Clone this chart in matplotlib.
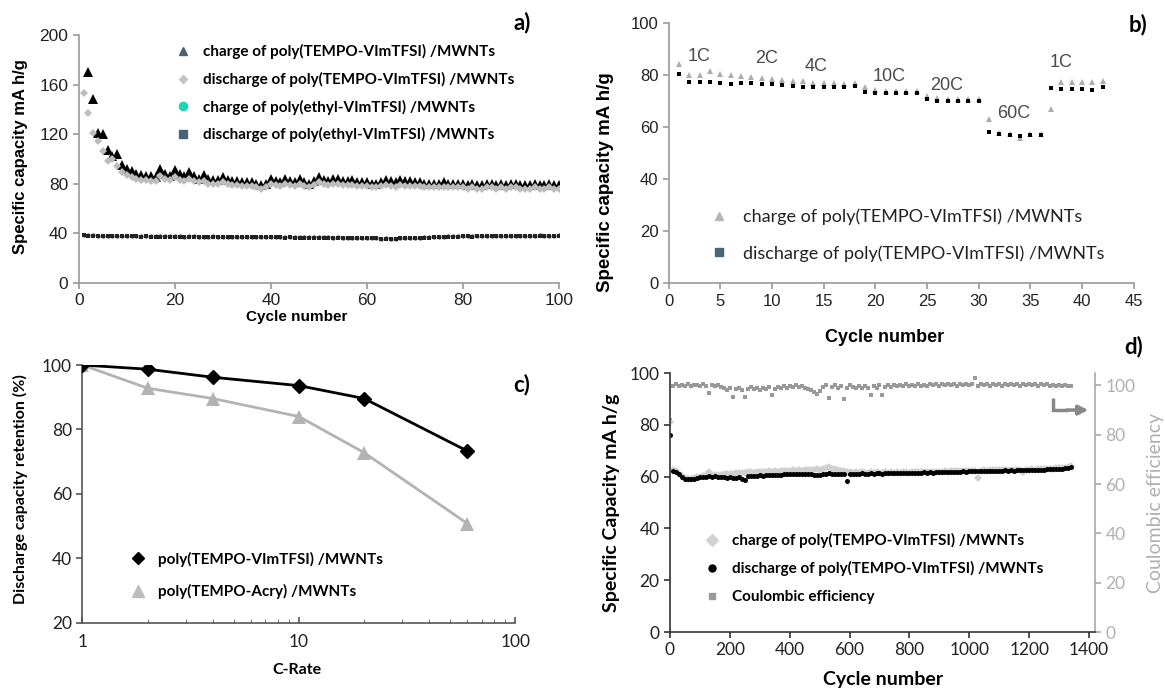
import numpy as np
import matplotlib
matplotlib.use("Agg")
import matplotlib.pyplot as plt
from matplotlib.lines import Line2D

# ---- panel a: cycling at 1C, 100 cycles ----
cyc_a = np.arange(1, 101)
chg_tempo = [np.nan, 170, 148, 121, 120, 107, 102, 104, 95, 92,
             90, 88, 87, 86, 86, 85, 92, 88, 86, 91,
             88, 86, 89, 86, 84, 87, 84, 83, 83, 85,
             83, 82, 82, 81, 81, 81, 80, 79, 80, 84,
             82, 81, 84, 82, 81, 84, 81, 80, 82, 85,
             83, 82, 84, 84, 82, 82, 83, 81, 81, 81,
             80, 80, 81, 83, 82, 81, 83, 82, 82, 81,
             81, 80, 80, 80, 80, 81, 80, 80, 80, 80,
             79, 80, 79, 79, 80, 80, 79, 80, 79, 80,
             80, 79, 79, 79, 80, 79, 79, 80, 79, 79]
dis_tempo = [153, 137, 121, 114, 106, 98, 100, 94, 89, 87,
             85, 84, 83, 83, 82, 82, 86, 84, 83, 85,
             83, 82, 84, 82, 81, 82, 80, 80, 80, 81,
             80, 79, 79, 78, 78, 78, 77, 76, 77, 80,
             79, 78, 80, 79, 78, 80, 78, 77, 79, 81,
             80, 79, 80, 80, 79, 79, 79, 78, 78, 78,
             77, 77, 78, 79, 78, 77, 79, 78, 78, 78,
             78, 77, 77, 77, 77, 77, 77, 77, 77, 77,
             76, 77, 76, 76, 77, 77, 76, 77, 76, 77,
             77, 76, 76, 76, 77, 76, 76, 77, 76, 76]
chg_ethyl = [38.5, 38.3, 38.2, 38.0, 38.0, 37.8, 37.9, 37.8, 37.7, 37.8,
             37.6, 37.7, 37.5, 37.6, 37.4, 37.5, 37.4, 37.4, 37.3, 37.4,
             37.3, 37.2, 37.5, 37.3, 37.2, 37.1, 37.2, 37.3, 37.1, 37.2,
             37.0, 37.1, 37.0, 36.9, 37.0, 36.9, 36.9, 37.0, 36.8, 36.9,
             36.8, 36.8, 36.7, 36.8, 36.7, 36.6, 36.7, 36.6, 36.5, 36.6,
             36.5, 36.5, 36.4, 36.5, 36.4, 36.3, 36.4, 36.3, 36.2, 36.3,
             36.2, 36.0, 35.5, 35.8, 35.4, 35.6, 36.0, 36.1, 36.2, 36.3,
             36.4, 36.5, 36.7, 36.8, 37.0, 37.2, 37.4, 37.5, 37.5, 37.6,
             37.6, 37.5, 37.6, 37.7, 37.6, 37.7, 37.7, 37.8, 37.7, 37.8,
             37.8, 37.9, 37.8, 37.9, 38.0, 38.2, 38.0, 37.9, 38.0, 38.1]
dis_ethyl = [38.1, 38.0, 37.9, 37.7, 37.7, 37.5, 37.6, 37.5, 37.4, 37.5,
             37.3, 37.4, 37.2, 37.3, 37.1, 37.2, 37.1, 37.1, 37.0, 37.1,
             37.0, 36.9, 37.2, 37.0, 36.9, 36.8, 36.9, 37.0, 36.8, 36.9,
             36.7, 36.8, 36.7, 36.6, 36.7, 36.6, 36.6, 36.7, 36.5, 36.6,
             36.5, 36.5, 36.4, 36.5, 36.4, 36.3, 36.4, 36.3, 36.2, 36.3,
             36.2, 36.2, 36.1, 36.2, 36.1, 36.0, 36.1, 36.0, 35.9, 36.0,
             35.9, 35.7, 35.2, 35.5, 35.1, 35.3, 35.7, 35.8, 35.9, 36.0,
             36.1, 36.2, 36.4, 36.5, 36.7, 36.9, 37.1, 37.2, 37.2, 37.3,
             37.3, 37.2, 37.3, 37.4, 37.3, 37.4, 37.4, 37.5, 37.4, 37.5,
             37.5, 37.6, 37.5, 37.6, 37.7, 37.9, 37.7, 37.6, 37.7, 37.8]

# ---- panel b: rate test ----
cyc_b = np.arange(1, 43)
chg_b = [84.3, 80.1, 80.1, 81.4, 80.5, 80.1, 79.6, 79.0, 78.6, 78.3,
         78.0, 77.7, 77.6, 77.0, 76.8, 76.7, 76.6, 77.0, 75.2, 74.0,
         73.9, 73.8, 73.8, 73.7, 72.0, 71.0, 70.8, 70.8, 70.7, 70.6,
         62.9, 57.6, 57.4, 55.7, 57.3, 57.2, 66.8, 77.3, 77.3, 77.3,
         77.1, 77.7]
dis_b = [80.5, 77.1, 77.1, 77.3, 76.7, 76.4, 76.8, 76.7, 76.4, 76.3,
         76.1, 75.8, 75.5, 75.4, 75.4, 75.4, 75.4, 75.8, 73.5, 73.1,
         73.1, 73.1, 73.1, 73.0, 70.6, 70.1, 70.1, 70.1, 69.9, 69.9,
         58.2, 57.2, 56.9, 56.6, 56.9, 56.8, 74.8, 74.6, 74.6, 74.4,
         74.3, 75.5]
rate_labels = ["1C", "2C", "4C", "10C", "20C", "60C", "1C"]
rate_lab_x = [2.9, 9.5, 14.3, 21.3, 26.9, 33.4, 38.0]
rate_lab_y = [87.2, 86.3, 83.1, 79.3, 76.1, 65.2, 84.6]

# ---- panel c: retention vs C-rate ----
c_rate = [1, 2, 4, 10, 20, 60]
ret_vim = [100, 98.7, 96.2, 93.6, 89.6, 73.3]
ret_acry = [100, 92.8, 89.6, 84.0, 72.8, 50.8]

# ---- panel d: long cycling (every 10th cycle) ----
cyc_d = [1] + list(range(10, 1341, 10))
dis_d = [76.0, 62.0, 61.8, 61.0, 60.0, 59.2, 58.9, 58.9, 59.2, 59.5,
         59.7, 59.9, 60.0, 60.1, 60.0, 60.1, 60.0, 59.9, 59.7, 59.6,
         59.8, 59.5, 59.4, 59.9, 59.1, 58.7, 60.1, 60.2, 60.3, 60.4,
         60.5, 60.4, 60.6, 60.7, 60.5, 60.8, 60.7, 60.8, 60.9, 61.0,
         61.0, 60.9, 61.1, 61.0, 61.2, 61.0, 61.1, 60.9, 60.7, 60.5,
         60.8, 61.0, 61.2, 61.3, 61.1, 61.2, 61.0, 61.1, 61.2, 58.4,
         61.1, 61.0, 61.2, 61.1, 61.3, 61.2, 61.1, 61.3, 61.2, 61.4,
         61.3, 61.2, 61.4, 61.3, 61.4, 61.3, 61.4, 61.3, 61.5, 61.4,
         61.3, 61.5, 61.4, 61.5, 61.4, 61.6, 61.5, 61.6, 61.5, 61.7,
         61.6, 61.7, 61.8, 61.7, 61.8, 61.9, 61.8, 61.9, 62.0, 61.9,
         62.0, 62.1, 62.0, 62.2, 62.1, 62.2, 62.1, 62.3, 62.2, 62.3,
         62.2, 62.3, 62.4, 62.3, 62.4, 62.3, 62.4, 62.5, 62.4, 62.5,
         62.5, 62.6, 62.5, 62.6, 62.7, 62.6, 62.8, 62.9, 62.8, 63.0,
         63.1, 63.0, 63.3, 63.5, 63.8]
chg_d = [81.0, 62.5, 62.0, 61.2, 60.2, 59.5, 59.2, 59.2, 59.5, 59.8,
         60.0, 60.3, 60.5, 61.8, 60.5, 60.7, 60.6, 60.8, 60.9, 61.0,
         61.0, 61.2, 61.3, 61.5, 61.4, 61.3, 61.6, 61.7, 61.5, 61.8,
         61.6, 61.9, 61.7, 62.0, 61.8, 62.1, 61.9, 62.2, 62.0, 62.3,
         62.1, 62.4, 62.2, 62.5, 62.3, 62.6, 62.4, 62.7, 62.5, 62.8,
         62.6, 62.9, 63.2, 63.6, 63.1, 62.8, 62.5, 62.3, 62.0, 61.8,
         61.6, 61.5, 61.6, 61.5, 61.6, 61.5, 61.4, 61.6, 61.5, 61.6,
         61.5, 61.4, 61.6, 61.5, 61.6, 61.5, 61.6, 61.5, 61.7, 61.6,
         61.5, 61.7, 61.6, 61.7, 61.6, 61.8, 61.7, 61.8, 61.7, 61.9,
         61.8, 61.9, 62.0, 61.9, 62.0, 62.1, 62.0, 62.1, 62.2, 62.1,
         62.2, 62.3, 62.2, 59.6, 62.3, 62.4, 62.3, 62.5, 62.4, 62.5,
         62.4, 62.5, 62.6, 62.5, 62.6, 62.5, 62.6, 62.7, 61.7, 62.7,
         62.7, 62.8, 62.7, 62.8, 62.9, 62.8, 63.0, 63.1, 63.0, 63.2,
         63.3, 63.2, 63.5, 63.7, 64.0]
ce_d = [86.0, 99.8, 100.4, 99.6, 100.2, 99.9, 100.5, 99.7, 100.3, 100.0,
        99.6, 100.4, 99.9, 97.0, 100.2, 99.7, 100.3, 99.4, 98.8, 98.3,
        99.0, 95.4, 98.5, 98.9, 98.2, 95.1, 98.6, 99.2, 98.4, 98.9,
        98.3, 99.0, 98.6, 99.3, 96.0, 98.7, 99.4, 98.9, 99.6, 99.1,
        99.8, 99.3, 100.0, 99.2, 99.7, 99.0, 98.6, 98.0, 97.4, 96.7,
        97.8, 99.5, 100.2, 94.8, 99.4, 100.1, 98.9, 99.8, 94.3, 99.0,
        100.3, 99.2, 98.8, 99.9, 99.1, 99.7, 98.9, 96.0, 99.6, 99.0,
        100.0, 96.0, 99.4, 100.1, 99.5, 100.2, 99.7, 100.3, 99.8, 100.4,
        99.9, 100.2, 99.7, 100.4, 99.9, 100.3, 99.8, 100.5, 100.0, 100.4,
        99.8, 100.5, 100.1, 100.6, 100.0, 100.4, 99.9, 100.6, 100.1, 100.5,
        100.0, 100.7, 102.8, 99.6, 100.6, 100.0, 100.4, 99.8, 100.5, 100.1,
        100.6, 99.9, 100.4, 100.0, 100.6, 100.1, 100.5, 99.9, 100.4, 100.0,
        100.6, 100.2, 100.5, 99.9, 100.4, 100.0, 100.5, 99.8, 100.3, 99.9,
        100.2, 99.7, 100.1, 99.6, 99.9]

ARIAL = "Liberation Sans"
CALI = "Lato"


def excel_axes(ax, color="#999999", tick_font=ARIAL, size=11):
    for s in ["top", "right"]:
        ax.spines[s].set_visible(False)
    for s in ["left", "bottom"]:
        ax.spines[s].set_color(color)
        ax.spines[s].set_linewidth(1.2)
    ax.tick_params(direction="out", length=4, width=1.2, color=color,
                   labelsize=size, labelcolor="#222222")
    for lab in ax.get_xticklabels() + ax.get_yticklabels():
        lab.set_fontfamily(tick_font)


fig = plt.figure(figsize=(11.65, 6.93), dpi=100)

# ================= a =================
ax_a = fig.add_axes([0.0676, 0.5921, 0.4121, 0.3574])
ax_a.plot(cyc_a, chg_ethyl, "o", color="#2f3f2f", ms=3, mew=0)
ax_a.plot(cyc_a, dis_ethyl, "s", color="#222222", ms=2.6, mew=0)
ax_a.plot(cyc_a, chg_tempo, "^", color="black", ms=7, mew=0)
ax_a.plot(cyc_a, dis_tempo, "D", color="#bdbdbd", ms=4.2, mew=0)
ax_a.set_xlim(0, 100)
ax_a.set_ylim(0, 200)
ax_a.set_xticks(range(0, 101, 20))
ax_a.set_yticks(range(0, 201, 40))
excel_axes(ax_a, size=12.5)
ax_a.set_ylabel("Specific capacity mA h/g", family=ARIAL, weight="bold", size=12)
ax_a.set_xlabel("Cycle number", family=ARIAL, weight="bold", size=11)
ax_a.yaxis.set_label_coords(-0.105, 0.51)
ax_a.xaxis.set_label_coords(0.453, -0.11)
h_a = [Line2D([], [], ls="none", marker="^", color="#4b6174", ms=5.5),
       Line2D([], [], ls="none", marker="D", color="#c4c4c4", ms=4),
       Line2D([], [], ls="none", marker="o", color="#1fd6b4", ms=6),
       Line2D([], [], ls="none", marker="s", color="#4b6174", ms=5.5)]
l_a = ["charge of poly(TEMPO-VImTFSI) /MWNTs",
       "discharge of poly(TEMPO-VImTFSI) /MWNTs",
       "charge of poly(ethyl-VImTFSI) /MWNTs",
       "discharge of poly(ethyl-VImTFSI) /MWNTs"]
ax_a.legend(h_a, l_a, loc="upper left", bbox_to_anchor=(0.1508, 0.936),
            bbox_transform=fig.transFigure, frameon=False, handlelength=1,
            handletextpad=0.8, borderpad=0, borderaxespad=0, labelspacing=0.82,
            prop=dict(family=CALI, weight="bold", size=11))

# ================= b =================
ax_b = fig.add_axes([0.5741, 0.5912, 0.3990, 0.3760])
ax_b.plot(cyc_b, chg_b, "^", color="#adadad", ms=4.8, mew=0)
ax_b.plot(cyc_b, dis_b, "s", color="black", ms=3, mew=0)
for t, x, y in zip(rate_labels, rate_lab_x, rate_lab_y):
    ax_b.text(x, y, t, family=ARIAL, size=13, color="#4a4a4a", ha="center", va="center")
ax_b.set_xlim(0, 45)
ax_b.set_ylim(0, 100)
ax_b.set_xticks(range(0, 46, 5))
ax_b.set_yticks(range(0, 101, 20))
excel_axes(ax_b, size=12)
ax_b.set_ylabel("Specific capacity mA h/g", family=ARIAL, weight="bold", size=13.5)
ax_b.set_xlabel("Cycle number", family=ARIAL, weight="bold", size=13)
ax_b.yaxis.set_label_coords(-0.118, 0.39)
ax_b.xaxis.set_label_coords(0.465, -0.175)
h_b = [Line2D([], [], ls="none", marker="^", color="#b5b5b5", ms=6),
       Line2D([], [], ls="none", marker="s", color="#4a6478", ms=5.5)]
l_b = ["charge of poly(TEMPO-VImTFSI) /MWNTs",
       "discharge of poly(TEMPO-VImTFSI) /MWNTs"]
ax_b.legend(h_b, l_b, loc="upper left", bbox_to_anchor=(0.6097, 0.699),
            bbox_transform=fig.transFigure, frameon=False, handlelength=1,
            handletextpad=0.8, borderpad=0, borderaxespad=0, labelspacing=1.1,
            prop=dict(family=CALI, size=13), labelcolor="#222222")

# ================= c =================
ax_c = fig.add_axes([0.0707, 0.1014, 0.3717, 0.3719])
ax_c.plot(c_rate, ret_vim, "-D", color="black", lw=2, ms=7.5, zorder=3)
ax_c.plot(c_rate, ret_acry, "-^", color="#b3b3b3", lw=2, ms=10, mew=0, zorder=2)
ax_c.set_xscale("log")
ax_c.set_xlim(1, 100)
ax_c.set_ylim(20, 100)
ax_c.set_yticks(range(20, 101, 20))
ax_c.set_xticks([1, 10, 100])
ax_c.set_xticklabels(["1", "10", "100"])
excel_axes(ax_c, color="#555555", tick_font=CALI, size=12.5)
ax_c.tick_params(axis="x", which="both", direction="in")
ax_c.tick_params(axis="x", which="minor", length=3, color="#555555")
ax_c.tick_params(axis="x", pad=8)
for lab in ax_c.get_xticklabels() + ax_c.get_yticklabels():
    lab.set_fontfamily(CALI)
ax_c.set_ylabel("Discharge capacity retention (%)", family=CALI, weight="bold", size=11.5)
ax_c.set_xlabel("C-Rate", family=CALI, weight="bold", size=11.5)
ax_c.yaxis.set_label_coords(-0.125, 0.52)
ax_c.xaxis.set_label_coords(0.496, -0.155)
h_c = [Line2D([], [], ls="none", marker="D", color="black", ms=6.5),
       Line2D([], [], ls="none", marker="^", color="#bdbdbd", ms=9)]
l_c = ["poly(TEMPO-VImTFSI) /MWNTs", "poly(TEMPO-Acry) /MWNTs"]
ax_c.legend(h_c, l_c, loc="upper left", bbox_to_anchor=(0.1122, 0.204),
            bbox_transform=fig.transFigure, frameon=False, handlelength=1,
            handletextpad=0.8, borderpad=0, borderaxespad=0, labelspacing=1.15,
            prop=dict(family=CALI, weight="bold", size=11))

# ================= d =================
ax_d = fig.add_axes([0.5751, 0.0880, 0.3648, 0.3737])
ax_e = ax_d.twinx()
ax_e.plot(cyc_d, ce_d, "s", color="#999999", ms=3.2, mew=0)
ax_d.set_zorder(ax_e.get_zorder() + 1)
ax_d.patch.set_visible(False)
ax_d.plot(cyc_d, chg_d, "D", color="#cfcfcf", ms=3.6, mew=0)
ax_d.plot(cyc_d, dis_d, "o", color="black", ms=3.6, mew=0)
ax_d.set_xlim(0, 1420)
ax_d.set_ylim(0, 100)
ax_e.set_ylim(0, 105)
ax_d.set_xticks(range(0, 1401, 200))
ax_d.set_yticks(range(0, 101, 20))
ax_e.set_yticks(range(0, 101, 20))
excel_axes(ax_d, color="#333333", tick_font=CALI, size=12.5)
ax_e.spines["top"].set_visible(False)
ax_e.spines["left"].set_visible(False)
ax_e.spines["bottom"].set_visible(False)
ax_e.spines["right"].set_color("#a8a8a8")
ax_e.spines["right"].set_linewidth(1.2)
ax_e.tick_params(direction="out", length=4, width=1.2, color="#a8a8a8",
                 labelsize=12.5, labelcolor="#b0b0b0")
for lab in ax_e.get_yticklabels():
    lab.set_fontfamily(CALI)
ax_d.set_ylabel("Specific Capacity mA h/g", family=CALI, weight="bold", size=14)
ax_d.set_xlabel("Cycle number", family=CALI, weight="bold", size=14)
ax_e.set_ylabel("Coulombic efficiency", family=CALI, size=14, color="#b0b0b0")
ax_d.yaxis.set_label_coords(-0.118, 0.50)
ax_d.xaxis.set_label_coords(0.501, -0.150)
ax_e.yaxis.set_label_coords(1.122, 0.50)
# arrow pointing to the right axis
ax_d.plot([1280, 1280, 1330], [90.5, 85.7, 85.7], color="#888888", lw=2.5,
          solid_capstyle="butt", solid_joinstyle="miter")
ax_d.annotate("", xy=(1398, 85.7), xytext=(1325, 85.7),
              arrowprops=dict(arrowstyle="-|>", color="#888888", lw=2.5,
                              mutation_scale=14, shrinkA=0, shrinkB=0))
h_d = [Line2D([], [], ls="none", marker="D", color="#d3d3d3", ms=6),
       Line2D([], [], ls="none", marker="o", color="black", ms=5),
       Line2D([], [], ls="none", marker="s", color="#9a9a9a", ms=5)]
l_d = ["charge of poly(TEMPO-VImTFSI) /MWNTs",
       "discharge of poly(TEMPO-VImTFSI) /MWNTs",
       "Coulombic efficiency"]
ax_d.legend(h_d, l_d, loc="upper left", bbox_to_anchor=(0.6049, 0.231),
            bbox_transform=fig.transFigure, frameon=False, handlelength=1,
            handletextpad=0.8, borderpad=0, borderaxespad=0, labelspacing=0.88,
            prop=dict(family=CALI, weight="bold", size=11))

# panel letters
for t, x, y in [("a)", 522, 23), ("b)", 1138, 25), ("c)", 522, 385), ("d)", 1134, 347)]:
    fig.text(x / 1165, 1 - y / 693, t, family=CALI, weight="bold", size=16,
             ha="center", va="center")

fig.savefig("out.png", dpi=100)
